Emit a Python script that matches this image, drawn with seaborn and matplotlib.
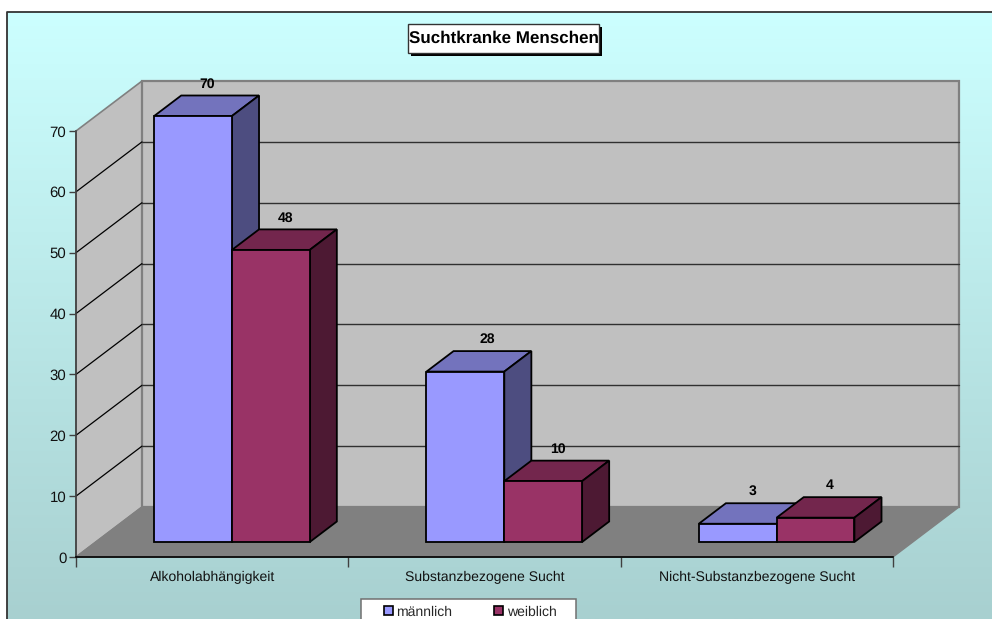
import numpy as np
import pandas as pd
import matplotlib
matplotlib.use("Agg")
import matplotlib.pyplot as plt
from matplotlib.colors import LinearSegmentedColormap
from matplotlib.patches import Polygon, Rectangle
from matplotlib.ticker import FixedLocator, NullFormatter
import seaborn as sns

# Chart values
categories = ["Alkoholabhängigkeit", "Substanzbezogene Sucht", "Nicht-Substanzbezogene Sucht"]
maennlich = [70, 28, 3]
weiblich = [48, 10, 4]
series_names = ["männlich", "weiblich"]
y_ticks = [0, 10, 20, 30, 40, 50, 60, 70]
chart_title = "Suchtkranke Menschen"

# Face colours: front, top, side
face_colours = {
    "männlich": ("#9999FF", "#7373BD", "#4D4D80"),
    "weiblich": ("#993366", "#73264D", "#4D1933"),
}

W, H = 992, 619
sns.set_theme(style="white")
plt.rcParams["font.family"] = ["Liberation Sans", "DejaVu Sans"]
plt.rcParams["text.hinting"] = "no_hinting"
plt.rcParams["text.hinting_factor"] = 1

fig = plt.figure(figsize=(W / 100, H / 100), dpi=100, facecolor="white")

# Full-figure layer in pixel units for the gradient panel and the title box
frame = fig.add_axes([0, 0, 1, 1], zorder=0)
frame.axis("off")
gradient = LinearSegmentedColormap.from_list("panel", ["#CCFFFF", "#A8D0D0"])
frame.imshow(np.linspace(0, 1, 256)[:, None], cmap=gradient, aspect="auto",
             extent=(7, W, H, 12), zorder=0)
frame.set_xlim(0, W)
frame.set_ylim(H, 0)
frame.plot([7, 7, W], [H, 12, 12], color="#333333", lw=1.3, zorder=1, clip_on=False)

# Plot axes: the front plane of the 3D box
x0, x1, y0, y70 = 76, 893, 557, 131
ax = fig.add_axes([x0 / W, (H - y0) / H, (x1 - x0) / W, (y0 - y70) / H], zorder=1)
ax.patch.set_visible(False)

df = pd.DataFrame({
    "Kategorie": categories * 2,
    "Wert": maennlich + weiblich,
    "Geschlecht": [series_names[0]] * 3 + [series_names[1]] * 3,
})
sns.barplot(data=df, x="Kategorie", y="Wert", hue="Geschlecht", order=categories,
            hue_order=series_names, palette=[face_colours[n][0] for n in series_names],
            width=2 / 3.5, gap=0, saturation=1, edgecolor="black", linewidth=1.3,
            ax=ax, legend=True)
ax.set_xlim(-0.5, 2.5)
ax.set_ylim(0, 70)

# Depth vector of the box, expressed in data units
px_x = 3 / (x1 - x0)
px_y = 70 / (y0 - y70)
depth_x = 66 * px_x
depth_y = 50 * px_y


def project(x, y, d):
    """Place a point of the 3D box, d running from 0 (front) to 1 (back)."""
    return (x + d * depth_x, y + d * depth_y)


def face(points, colour, edge, lw, z):
    ax.add_patch(Polygon(points, closed=True, facecolor=colour, edgecolor=edge,
                         linewidth=lw, zorder=z, clip_on=False, joinstyle="miter"))


xl, xr = -0.5, 2.5
top = y_ticks[-1]

# Walls and floor
face([project(xl, 0, 0), project(xl, 0, 1), project(xl, top, 1), project(xl, top, 0)],
     "#C0C0C0", "#808080", 1.2, 1)
face([project(xl, 0, 1), project(xr, 0, 1), project(xr, top, 1), project(xl, top, 1)],
     "#C0C0C0", "#808080", 1.6, 1)
face([project(xl, 0, 0), project(xr, 0, 0), project(xr, 0, 1), project(xl, 0, 1)],
     "#808080", "#808080", 1.0, 2)

# Gridlines across both walls
for v in y_ticks[1:-1]:
    ax.plot(*zip(project(xl, v, 0), project(xl, v, 1)), color="black", lw=0.9,
            zorder=3, clip_on=False)
    ax.plot(*zip(project(xl, v, 1), project(xr, v, 1)), color="#303030", lw=1.0,
            zorder=3, clip_on=False)

# Turn each seaborn bar into a cuboid standing between these two depths
d_front, d_back = 0.3, 0.71
# The label of the tall middle bar sits a little further to the right
label_nudge = {28: 7}
z = 10
for i in range(len(categories)):
    for container, name in zip(ax.containers, series_names):
        bar = container[i]
        front, top_c, side_c = face_colours[name]
        left, w, h = bar.get_x(), bar.get_width(), bar.get_height()
        right = left + w
        fx, fy = project(left, 0, d_front)
        bar.set_x(fx)
        bar.set_y(fy)
        bar.set_zorder(z + 1)
        bar.set_clip_on(False)
        face([project(left, h, d_front), project(right, h, d_front),
              project(right, h, d_back), project(left, h, d_back)],
             top_c, "black", 1.3, z)
        face([project(right, 0, d_front), project(right, 0, d_back),
              project(right, h, d_back), project(right, h, d_front)],
             side_c, "black", 1.3, z)
        label_x = project(left + w / 2, h, (d_front + d_back) / 2)[0]
        label_y = project(left, h, d_back)[1]
        ax.annotate(f"{h:g}", (label_x, label_y), xytext=(1 + label_nudge.get(int(h), 0), 5),
                    textcoords="offset pixels", ha="center", va="bottom",
                    fontsize=9.8, fontweight="bold", color="black", zorder=60,
                    annotation_clip=False)
        z += 3

# Axis lines, ticks and labels
for s in ("top", "right"):
    ax.spines[s].set_visible(False)
ax.spines["left"].set_color("#404040")
ax.spines["left"].set_linewidth(1.2)
ax.spines["left"].set_zorder(6)
ax.spines["bottom"].set_color("black")
ax.spines["bottom"].set_linewidth(1.2)
ax.spines["bottom"].set_zorder(6)
ax.set_xlabel("")
ax.set_ylabel("")
ax.set_yticks(y_ticks)
ax.tick_params(axis="y", length=5, width=1.0, color="#404040", labelsize=10.5,
               pad=2, left=True, labelcolor="#111111")
ax.xaxis.set_major_locator(FixedLocator([-0.5, 0.5, 1.5, 2.5]))
ax.xaxis.set_major_formatter(NullFormatter())
ax.set_xticks([0, 1, 2], labels=categories, minor=True)
ax.tick_params(axis="x", which="major", length=7, width=1.0, color="#404040", bottom=True)
ax.tick_params(axis="x", which="minor", length=0, labelsize=10.3, pad=10.2,
               labelcolor="#111111")

# Title box with a hard drop shadow
frame.add_patch(Rectangle((411, 27), 191, 29, facecolor="black", edgecolor="none", zorder=3))
frame.add_patch(Rectangle((408, 24), 191, 29, facecolor="white", edgecolor="#333333",
                          linewidth=1, zorder=4))
frame.text(503.5, 38.5, chart_title, ha="center", va="center", fontsize=12.1,
           fontweight="bold", color="black", zorder=5)

# Legend box on the lower edge of the panel, with the entries placed inside it
frame.add_patch(Rectangle((361, 599), 215, 30, facecolor="white", edgecolor="#707070",
                          linewidth=1.1, zorder=3))
handles, labels = ax.get_legend_handles_labels()
leg = ax.legend(handles, labels, ncol=2, loc="upper left",
                bbox_to_anchor=(384 / W, (H - 605.5) / H), bbox_transform=fig.transFigure,
                fontsize=10, frameon=False, borderaxespad=0,
                handlelength=0.65, handleheight=0.65, handletextpad=0.22,
                columnspacing=3.05, borderpad=0, title=None)
leg.set_zorder(70)
for h in leg.legend_handles:
    h.set_edgecolor("black")
    h.set_linewidth(1.2)

fig.savefig("out.png", dpi=100, facecolor="white")
